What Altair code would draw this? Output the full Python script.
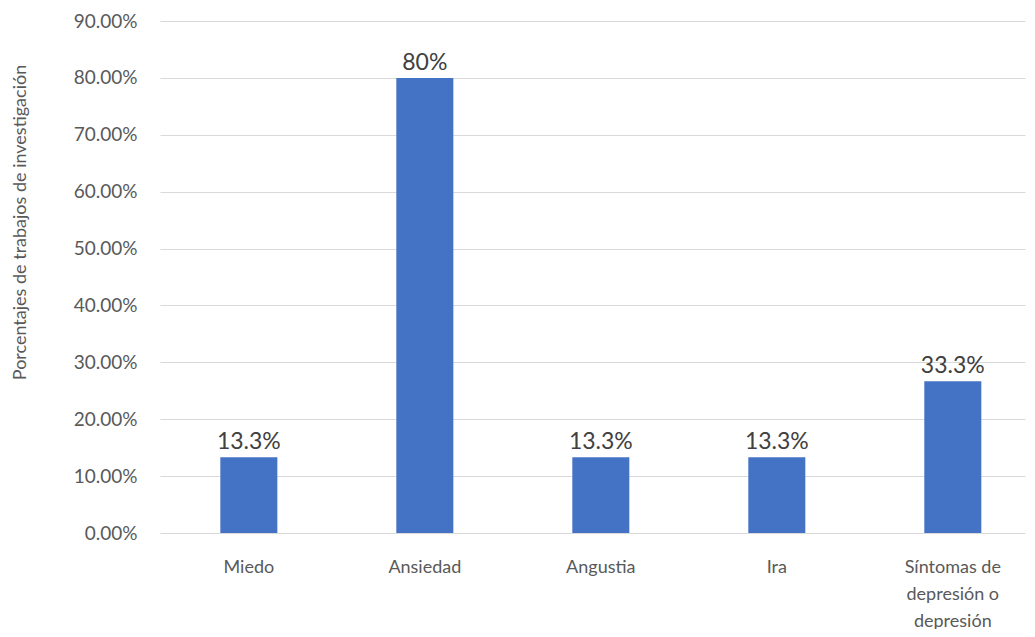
import altair as alt
import pandas as pd

categories = ["Miedo", "Ansiedad", "Angustia", "Ira", "Síntomas de depresión o depresión"]
values = [0.1333, 0.80, 0.1333, 0.1333, 0.2667]
labels = ["13.3%", "80%", "13.3%", "13.3%", "33.3%"]

df = pd.DataFrame({"cat": categories, "val": values, "lab": labels})

FONT = "Lato"

x = alt.X("cat:N", sort=categories, title=None,
          scale=alt.Scale(paddingInner=0.676, paddingOuter=0.2955, align=0.58),
          axis=alt.Axis(labelAngle=0, domain=False, ticks=False, labelPadding=25,
                        labelFont=FONT, labelFontSize=18, labelColor="#595959",
                        labelLineHeight=27, labelLimit=300,
                        labelExpr="datum.label == 'Síntomas de depresión o depresión' ? ['Síntomas de', 'depresión o', 'depresión'] : datum.label"))
y = alt.Y("val:Q", title="Porcentajes de trabajos de investigación",
          scale=alt.Scale(domain=[0, 0.9], nice=False),
          axis=alt.Axis(format=".2%", values=[i / 10 for i in range(10)], domain=False, ticks=False,
                        labelPadding=23, labelFont=FONT, labelFontSize=19, labelColor="#595959",
                        gridColor="#d9d9d9", titleFont=FONT, titleFontSize=18,
                        titleFontWeight="normal", titleColor="#595959",
                        titleX=-140, titleY=201, titleBaseline="middle", titleAlign="center", titleAngle=-90))

bars = alt.Chart(df).mark_bar(color="#4472C4").encode(x=x, y=y)
text = alt.Chart(df).mark_text(baseline="bottom", dy=-3, font=FONT, fontSize=23, color="#404040").encode(
    x=alt.X("cat:N", sort=categories), y="val:Q", text="lab:N")

chart = (bars + text).properties(
    width=865, height=512,
    autosize=alt.AutoSizeParams(type="none"),
    padding={"left": 152, "top": 13, "right": 2, "bottom": 96},
).configure_view(stroke=None)

chart.save("out.html", embed_options={"renderer": "svg", "actions": False})
